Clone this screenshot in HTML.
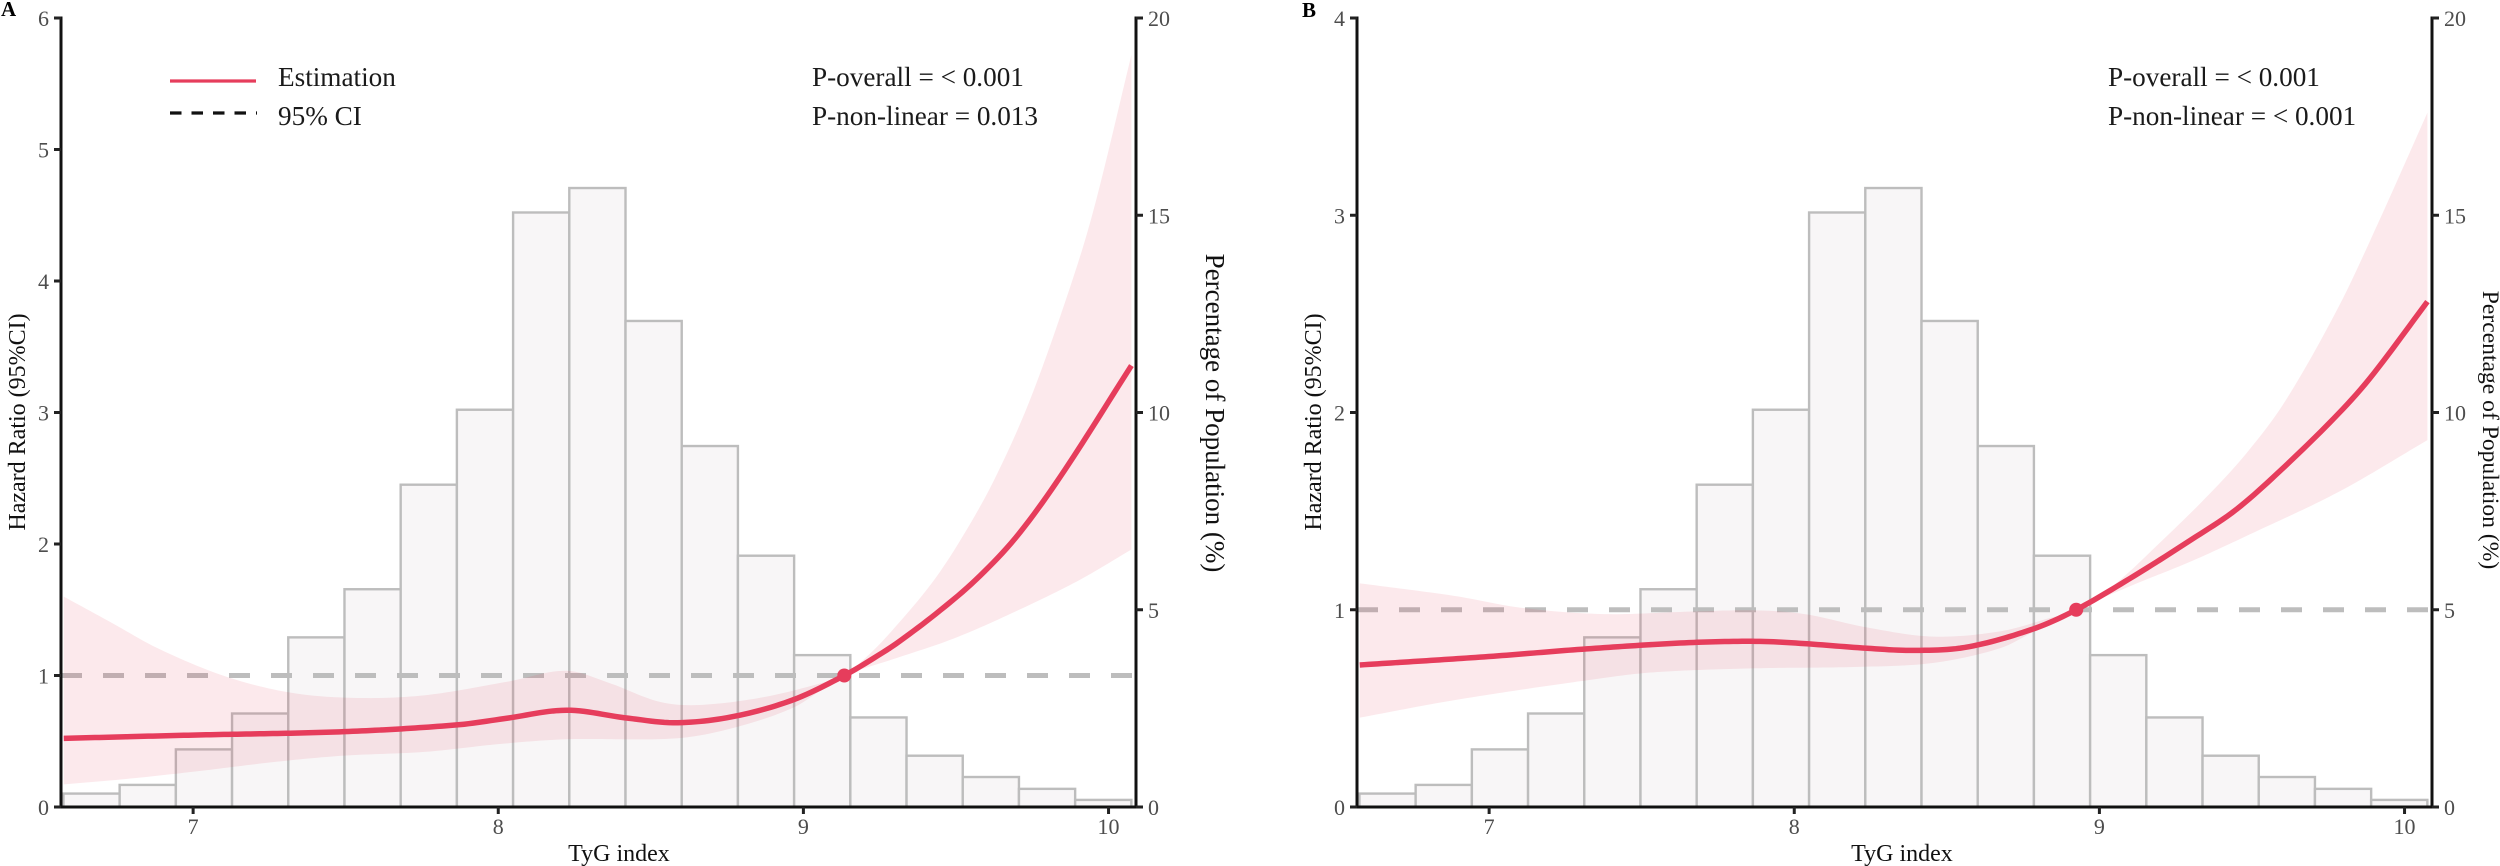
<!DOCTYPE html>
<html lang="en">
<head>
<meta charset="utf-8">
<title>TyG index and hazard ratio</title>
<style>
html,body{margin:0;padding:0;background:#fff;}
svg{display:block;}
text{font-family:"Liberation Serif",serif;}
.tick{font-size:22px;fill:#4d4d4d;}
.title{font-size:24px;fill:#111;}
.note{font-size:27.2px;fill:#1a1a1a;}
.panel{font-size:21px;font-weight:bold;fill:#000;}
</style>
</head>
<body>
<svg id="chart" width="2500" height="866" viewBox="0 0 2500 866" xmlns="http://www.w3.org/2000/svg">
  <rect x="0" y="0" width="2500" height="866" fill="#fff"/>
  <g id="panel-a"></g>
  <g id="panel-b"></g>

  <text class="panel" x="1" y="16">A</text>
  <text class="panel" x="1302" y="17">B</text>

  <line x1="170" x2="256" y1="81" y2="81" stroke="#e63d5c" stroke-width="3.2"/>
  <text class="note" x="278" y="86">Estimation</text>
  <line x1="170" x2="257" y1="113" y2="113" stroke="#111" stroke-width="3.2" stroke-dasharray="11.5 10"/>
  <text class="note" x="278" y="125">95% CI</text>

  <text class="note" x="812" y="86">P-overall = &lt; 0.001</text>
  <text class="note" x="812" y="125">P-non-linear = 0.013</text>
  <text class="note" x="2108" y="86">P-overall = &lt; 0.001</text>
  <text class="note" x="2108" y="125">P-non-linear = &lt; 0.001</text>

  <text class="title" x="619" y="861" text-anchor="middle">TyG index</text>
  <text class="title" x="1902" y="861" text-anchor="middle">TyG index</text>
  <text class="title" transform="translate(25 422) rotate(-90)" text-anchor="middle">Hazard Ratio (95%CI)</text>
  <text class="title" transform="translate(1321 422) rotate(-90)" text-anchor="middle">Hazard Ratio (95%CI)</text>
  <text class="title" style="font-size:27px" transform="translate(1206 413) rotate(90)" text-anchor="middle">Percentage of Population (%)</text>
  <text class="title" style="font-size:23.6px" transform="translate(2483 430) rotate(90)" text-anchor="middle">Percentage of Population (%)</text>
</svg>

<script>
// ----- shared data -----
var binStart = 6.575;
var binWidth = 0.1842;
var populationPercent = [0.34, 0.56, 1.46, 2.37, 4.30, 5.52, 8.17, 10.07, 15.07, 15.69, 12.32, 9.15, 6.37, 3.85, 2.27, 1.30, 0.76, 0.46, 0.18];
var xTicks = [7, 8, 9, 10];
var percentTicks = [0, 5, 10, 15, 20];
var xDomain = [6.567, 10.09];
var percentDomain = [0, 20];
var referenceHazard = 1;

// ----- panel A data -----
var hazardTicksA = [0, 1, 2, 3, 4, 5, 6];
var hazardDomainA = [0, 6];
var markerTygA = 9.134;
var estimateTygA = [6.576, 7.0, 7.496, 7.863, 8.02, 8.223, 8.42, 8.583, 8.768, 8.964, 9.134, 9.25, 9.315, 9.44, 9.566, 9.7, 9.85, 10.075];
var estimateHrA = [0.522, 0.547, 0.573, 0.624, 0.672, 0.736, 0.677, 0.641, 0.687, 0.813, 1.0, 1.16, 1.26, 1.48, 1.73, 2.06, 2.54, 3.357];
var upperTygA = [6.576, 6.726, 6.89, 7.109, 7.326, 7.545, 7.764, 8.037, 8.223, 8.365, 8.528, 8.66, 8.878, 9.095, 9.134, 9.22, 9.29, 9.42, 9.52, 9.63, 9.75, 9.892, 9.96, 10.075];
var upperHrA = [1.6, 1.41, 1.2, 0.991, 0.867, 0.829, 0.851, 0.956, 1.036, 0.942, 0.80, 0.776, 0.839, 0.965, 1.0, 1.17, 1.34, 1.70, 2.05, 2.51, 3.14, 4.08, 4.62, 5.72];
var lowerTygA = [6.576, 6.78, 7.0, 7.273, 7.49, 7.764, 8.004, 8.223, 8.583, 8.768, 8.964, 9.075, 9.134, 9.315, 9.48, 9.642, 9.892, 10.075];
var lowerHrA = [0.172, 0.213, 0.268, 0.344, 0.39, 0.42, 0.479, 0.515, 0.522, 0.6, 0.753, 0.915, 1.0, 1.14, 1.27, 1.43, 1.71, 1.958];

// ----- panel B data -----
var hazardTicksB = [0, 1, 2, 3, 4];
var hazardDomainB = [0, 4];
var markerTygB = 8.924;
var estimateTygB = [6.576, 7.0, 7.323, 7.65, 7.87, 8.017, 8.236, 8.388, 8.563, 8.78, 8.924, 9.109, 9.306, 9.45, 9.61, 9.787, 9.895, 10.075];
var estimateHrB = [0.72, 0.763, 0.802, 0.833, 0.84, 0.83, 0.805, 0.794, 0.81, 0.901, 1.0, 1.167, 1.36, 1.51, 1.73, 2.0, 2.19, 2.562];
var upperTygB = [6.576, 6.887, 7.105, 7.378, 7.65, 7.87, 8.034, 8.236, 8.453, 8.673, 8.837, 8.924, 9.055, 9.207, 9.35, 9.48, 9.61, 9.787, 9.918, 10.075];
var upperHrB = [1.134, 1.07, 1.01, 0.978, 0.99, 0.997, 0.978, 0.911, 0.864, 0.89, 0.958, 1.0, 1.135, 1.353, 1.57, 1.79, 2.06, 2.545, 2.976, 3.52];
var lowerTygB = [6.576, 6.887, 7.323, 7.54, 7.87, 8.198, 8.453, 8.673, 8.78, 8.924, 9.109, 9.3, 9.49, 9.787, 10.075];
var lowerHrB = [0.453, 0.542, 0.643, 0.683, 0.703, 0.71, 0.73, 0.804, 0.885, 1.0, 1.125, 1.245, 1.38, 1.60, 1.86];

var SVG_NS = 'http://www.w3.org/2000/svg';

function make(tag, attrs, parent) {
  var el = document.createElementNS(SVG_NS, tag);
  for (var k in attrs) { el.setAttribute(k, attrs[k]); }
  parent.appendChild(el);
  return el;
}

function linearScale(domain, range) {
  return function (v) {
    return range[0] + (v - domain[0]) / (domain[1] - domain[0]) * (range[1] - range[0]);
  };
}

// Smooth cubic Hermite interpolation through the read-off points.
function smoother(xs, ys) {
  var n = xs.length;
  var m = [];
  for (var i = 0; i < n; i++) {
    if (i === 0) { m.push((ys[1] - ys[0]) / (xs[1] - xs[0])); }
    else if (i === n - 1) { m.push((ys[n - 1] - ys[n - 2]) / (xs[n - 1] - xs[n - 2])); }
    else { m.push((ys[i + 1] - ys[i - 1]) / (xs[i + 1] - xs[i - 1])); }
  }
  return function (x) {
    var i = 0;
    while (i < n - 2 && x > xs[i + 1]) { i++; }
    var h = xs[i + 1] - xs[i];
    var t = (x - xs[i]) / h;
    var t2 = t * t;
    var t3 = t2 * t;
    return (2 * t3 - 3 * t2 + 1) * ys[i] + (t3 - 2 * t2 + t) * h * m[i] +
           (-2 * t3 + 3 * t2) * ys[i + 1] + (t3 - t2) * h * m[i + 1];
  };
}

function sampleCurve(xs, ys, sx, sy) {
  var f = smoother(xs, ys);
  var pts = [];
  var first = xs[0];
  var last = xs[xs.length - 1];
  var steps = 240;
  for (var i = 0; i <= steps; i++) {
    var x = first + (last - first) * i / steps;
    pts.push(sx(x).toFixed(2) + ',' + sy(f(x)).toFixed(2));
  }
  return pts;
}

function drawPanel(cfg) {
  var root = document.getElementById(cfg.id);
  var left = cfg.left;
  var right = cfg.left + 1075;
  var top = 18;
  var bottom = 807;
  var sx = linearScale(xDomain, [left, right]);
  var sHr = linearScale(cfg.hazardDomain, [bottom, top]);
  var sPct = linearScale(percentDomain, [bottom, top]);

  // histogram bars
  populationPercent.forEach(function (p, i) {
    var x0 = sx(binStart + i * binWidth);
    var x1 = sx(binStart + (i + 1) * binWidth);
    var bar = make('rect', {
      x: x0, y: sPct(p), width: x1 - x0, height: bottom - sPct(p),
      fill: '#f8f6f7', stroke: '#bdbdbd', 'stroke-width': 2.4
    }, root);
    
    
  });

  // reference line
  var ref = make('line', {
    x1: left, x2: right, y1: sHr(referenceHazard), y2: sHr(referenceHazard),
    stroke: '#bdbdbd', 'stroke-width': 5, 'stroke-dasharray': '21 21'
  }, root);
  
  

  // confidence band
  var upperPts = sampleCurve(cfg.upperTyg, cfg.upperHr, sx, sHr);
  var lowerPts = sampleCurve(cfg.lowerTyg, cfg.lowerHr, sx, sHr);
  var band = make('polygon', {
    points: upperPts.concat(lowerPts.reverse()).join(' '),
    fill: '#e63d5c', 'fill-opacity': 0.115, stroke: 'none'
  }, root);
  
  

  // estimate curve
  var curve = make('polyline', {
    points: sampleCurve(cfg.estimateTyg, cfg.estimateHr, sx, sHr).join(' '),
    fill: 'none', stroke: '#e63d5c', 'stroke-width': 5.5, 'stroke-linejoin': 'round'
  }, root);
  
  

  // reference marker
  var marker = make('circle', {
    cx: sx(cfg.markerTyg), cy: sHr(referenceHazard), r: 7, fill: '#e63d5c'
  }, root);
  
  

  // axis lines
  var axisStyle = { stroke: '#111', 'stroke-width': 3 };
  var leftAxis = make('line', { x1: left, x2: left, y1: top - 1.5, y2: bottom + 1.5, stroke: axisStyle.stroke, 'stroke-width': axisStyle['stroke-width'] }, root);
  
  
  var rightAxis = make('line', { x1: right, x2: right, y1: top - 1.5, y2: bottom + 1.5, stroke: axisStyle.stroke, 'stroke-width': axisStyle['stroke-width'] }, root);
  
  
  var bottomAxis = make('line', { x1: left, x2: right, y1: bottom, y2: bottom, stroke: axisStyle.stroke, 'stroke-width': axisStyle['stroke-width'] }, root);
  
  

  // left ticks
  cfg.hazardTicks.forEach(function (v) {
    var y = sHr(v);
    var tick = make('line', { x1: left - 7, x2: left, y1: y, y2: y, stroke: '#222', 'stroke-width': 3 }, root);
    
    
    var label = make('text', { x: left - 12, y: y + 8, 'text-anchor': 'end', 'class': 'tick' }, root);
    
    
    label.textContent = v;
  });

  // right ticks
  percentTicks.forEach(function (v) {
    var y = sPct(v);
    var tick = make('line', { x1: right, x2: right + 7, y1: y, y2: y, stroke: '#222', 'stroke-width': 3 }, root);
    
    
    var label = make('text', { x: right + 12, y: y + 8, 'class': 'tick' }, root);
    
    
    label.textContent = v;
  });

  // x ticks
  xTicks.forEach(function (v) {
    var x = sx(v);
    var tick = make('line', { x1: x, x2: x, y1: bottom, y2: bottom + 7, stroke: '#222', 'stroke-width': 3 }, root);
    
    
    var label = make('text', { x: x, y: bottom + 27, 'text-anchor': 'middle', 'class': 'tick' }, root);
    
    
    label.textContent = v;
  });
}

drawPanel({
  id: 'panel-a', left: 61,
  hazardDomain: hazardDomainA, hazardTicks: hazardTicksA, markerTyg: markerTygA,
  estimateTyg: estimateTygA, estimateHr: estimateHrA,
  upperTyg: upperTygA, upperHr: upperHrA,
  lowerTyg: lowerTygA, lowerHr: lowerHrA
});
drawPanel({
  id: 'panel-b', left: 1357,
  hazardDomain: hazardDomainB, hazardTicks: hazardTicksB, markerTyg: markerTygB,
  estimateTyg: estimateTygB, estimateHr: estimateHrB,
  upperTyg: upperTygB, upperHr: upperHrB,
  lowerTyg: lowerTygB, lowerHr: lowerHrB
});
</script>
</body>
</html>
